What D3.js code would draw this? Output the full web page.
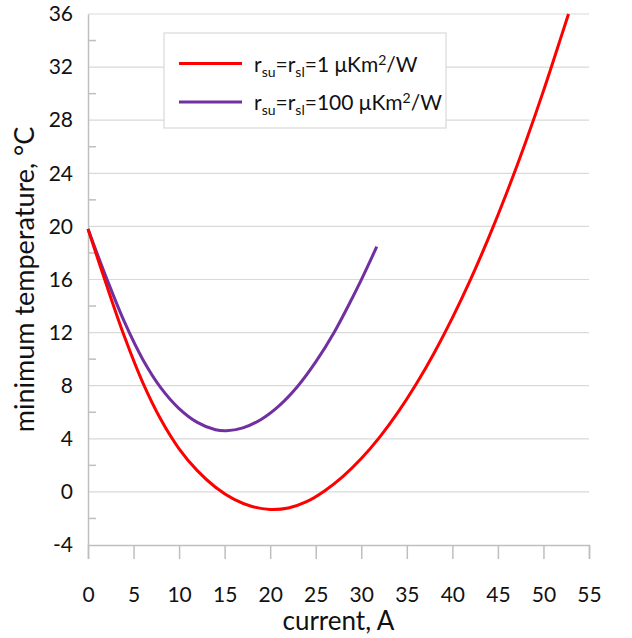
<!DOCTYPE html>
<html><head><meta charset="utf-8">
<script src="https://cdn.jsdelivr.net/npm/d3@7/dist/d3.min.js"></script>
<style>
html,body{margin:0;padding:0;background:#fff;}
svg{display:block;font-family:Lato,"Open Sans",sans-serif;}
</style></head>
<body><svg id="c" width="632" height="638"></svg>
<script>
// current (A), minimum temperature (°C)
const redX = [0,2,4,6,8,10,12,14,16,18,20,22,24,26,28,30,32,34,36,38,40,42,44,46,48,50,52,52.75];
const redY = [19.8,15.65,11.7,8.25,5.45,3.25,1.6,0.35,-0.55,-1.1,-1.32,-1.21,-0.74,0.09,1.17,2.51,4.11,5.97,8.09,10.47,13.11,16.01,19.17,22.59,26.27,30.21,34.41,36];
const purpleX = [0,2,4,6,8,10,12,14,15.2,17,19,21,23,25,27,29,30,31.7];
const purpleY = [19.8,16.16,12.8,10.0,7.84,6.28,5.24,4.68,4.6,4.82,5.46,6.5,7.94,9.79,11.99,14.59,15.97,18.47];
const xTicks = [0,5,10,15,20,25,30,35,40,45,50,55];
const yTicks = [-4,0,4,8,12,16,20,24,28,32,36];
const yMinor = [-2,2,6,10,14,18,22,26,30,34];
const seriesNames = ["1", "100"];

const svg = d3.select("#c");
const L = 88, R = 589, T = 14, B = 545;
const x = d3.scaleLinear().domain([0,55]).range([L,R]);
const y = d3.scaleLinear().domain([-4,36]).range([B,T]);

// gridlines
svg.append("g").selectAll("line").data(yTicks.filter(v=>v>-4)).join("line")
  .attr("x1",L).attr("x2",R).attr("y1",d=>y(d)).attr("y2",d=>y(d))
  .attr("stroke","#d9d9d9").attr("stroke-width",1.2);

// x axis
const xa = svg.append("g").attr("transform",`translate(0,${B})`)
  .call(d3.axisBottom(x).tickValues(xTicks).tickSize(14).tickPadding(28).tickFormat(d=>String(d)));
xa.select(".domain").attr("stroke","#bfbfbf").attr("stroke-width",1.5);
xa.selectAll(".tick line").attr("stroke","#bfbfbf").attr("stroke-width",1.5);
xa.selectAll("text").attr("font-size",21).attr("fill","#111").attr("font-family","Lato");

// y axis
const ya = svg.append("g").attr("transform",`translate(${L},0)`)
  .call(d3.axisLeft(y).tickValues(yTicks).tickSize(0).tickPadding(15).tickFormat(d=>String(d)));
ya.select(".domain").attr("stroke","#bfbfbf").attr("stroke-width",1.5);
ya.selectAll("text").attr("font-size",21).attr("fill","#111").attr("font-family","Lato");
svg.append("g").selectAll("line").data(yMinor).join("line")
  .attr("x1",L).attr("x2",L+8).attr("y1",d=>y(d)).attr("y2",d=>y(d))
  .attr("stroke","#bfbfbf").attr("stroke-width",1.5);

// curves
const line = d3.line().x(d=>x(d[0])).y(d=>y(d[1])).curve(d3.curveCatmullRom.alpha(0.5));
svg.append("path").datum(purpleX.map((v,i)=>[v,purpleY[i]]))
  .attr("d",line).attr("fill","none").attr("stroke","#7030a0").attr("stroke-width",3);
svg.append("path").datum(redX.map((v,i)=>[v,redY[i]]))
  .attr("d",line).attr("fill","none").attr("stroke","#ff0000").attr("stroke-width",3);

// axis titles
svg.append("text").attr("x",(L+R)/2).attr("y",630).attr("text-anchor","middle")
  .attr("font-size",26).attr("fill","#111").text("current, A");
svg.append("text").attr("transform",`translate(34,${(T+B)/2}) rotate(-90)`).attr("text-anchor","middle")
  .attr("font-size",27).attr("fill","#111").text("minimum temperature, °C");

// legend
const lg = svg.append("g");
lg.append("rect").attr("x",164).attr("y",33).attr("width",282).attr("height",95)
  .attr("fill","#fff").attr("stroke","#d9d9d9").attr("stroke-width",1.2);
const colors = ["#ff0000","#7030a0"];
seriesNames.forEach((n,i)=>{
  const yy = 63.5 + i*38.5;
  lg.append("line").attr("x1",179).attr("x2",242).attr("y1",yy).attr("y2",yy)
    .attr("stroke",colors[i]).attr("stroke-width",3);
  const t = lg.append("text").attr("x",254).attr("y",yy+8).attr("font-size",21).attr("fill","#111");
  t.append("tspan").text("r");
  t.append("tspan").attr("font-size",14).attr("dy",5).text("su");
  t.append("tspan").attr("dy",-5).text("=r");
  t.append("tspan").attr("font-size",14).attr("dy",5).text("sl");
  t.append("tspan").attr("dy",-5).text("=" + n + " μKm");
  t.append("tspan").attr("font-size",14).attr("dy",-7).text("2");
  t.append("tspan").attr("dy",7).text("/W");
});
</script></body></html>
